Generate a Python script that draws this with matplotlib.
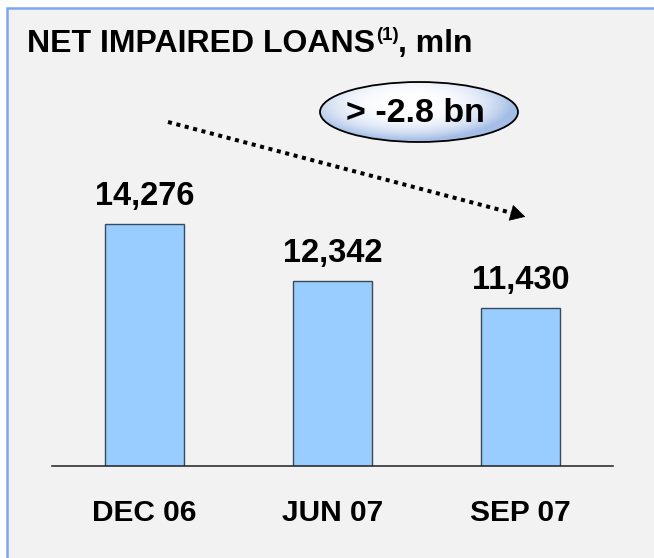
import numpy as np
import matplotlib
matplotlib.use("Agg")
import matplotlib.pyplot as plt
from matplotlib.patches import Rectangle, Ellipse

categories = ["DEC 06", "JUN 07", "SEP 07"]
values = [14276, 12342, 11430]
value_labels = ["14,276", "12,342", "11,430"]
title_main = "NET IMPAIRED LOANS"
title_sup = "(1)"
title_tail = ", mln"
bubble_text = "> -2.8 bn"

W, H = 654, 558
DPI = 100
fig = plt.figure(figsize=(W / DPI, H / DPI), dpi=DPI, facecolor="white")
FONT = "Liberation Sans"

# background frame (pixel coords, y down)
bg = fig.add_axes([0, 0, 1, 1], zorder=0)
bg.set_xlim(0, W); bg.set_ylim(H, 0); bg.axis("off")
bg.add_patch(Rectangle((7, 8), W + 20, H + 20, facecolor="#F2F2F2",
                       edgecolor="#7FA6F5", lw=1.8))

# bar axes
ax = fig.add_axes([52 / W, (H - 466) / H, 561 / W, 366 / H], zorder=1)
ax.patch.set_alpha(0)
x = np.arange(len(categories))
ax.bar(x, values, width=0.42, color="#99CCFF", edgecolor="#3A4A5A", lw=1.0, zorder=2)
ax.set_xlim(-0.49, 2.49)
ax.set_ylim(6067, 6067 + 366 / 0.02947)
for s in ["top", "right", "left"]:
    ax.spines[s].set_visible(False)
ax.spines["bottom"].set_color("#202020")
ax.spines["bottom"].set_linewidth(1.1)
ax.set_yticks([])
ax.set_xticks(x)
ax.set_xticklabels(categories, fontfamily=FONT, fontweight="bold", fontsize=21.5)
ax.tick_params(axis="x", length=0, pad=24)
for xi, v, lab in zip(x, values, value_labels):
    ax.annotate(lab, (xi, v), xytext=(0, 13.5), textcoords="offset points",
                ha="center", va="baseline", fontfamily=FONT, fontweight="bold",
                fontsize=23.5, color="black")

# overlay
ov = fig.add_axes([0, 0, 1, 1], zorder=3)
ov.set_xlim(0, W); ov.set_ylim(H, 0); ov.axis("off")
ov.patch.set_alpha(0)

t1 = ov.text(27, 52, title_main, fontfamily=FONT, fontweight="bold",
             fontsize=23, va="baseline", ha="left")
t2 = ov.annotate(title_sup, xy=(1, 0.5), xycoords=t1, xytext=(0.5, 0),
                 textcoords="offset points", fontfamily=FONT, fontweight="bold",
                 fontsize=13.5, va="bottom", ha="left")
t3 = ov.annotate(title_tail, xy=(1, 0), xycoords=(t2, t1), xytext=(0, 0),
                 textcoords="offset points", fontfamily=FONT, fontweight="bold",
                 fontsize=23, va="bottom", ha="left")

# dotted arrow
x0, y0, x1, y1 = 168, 122, 510, 212.5
ov.plot([x0, x1], [y0, y1], color="black", lw=2.9, ls=(0, (1, 1.15)),
        solid_capstyle="butt", dash_capstyle="butt")
ov.annotate("", xy=(528, 217.5), xytext=(508, 212),
            arrowprops=dict(arrowstyle="-|>,head_length=1.0,head_width=0.55",
                            color="black", lw=0.5))

# gradient ellipse
cx, cy, ew, eh = 419, 112, 198, 60
ell = Ellipse((cx, cy), ew, eh, facecolor="none", edgecolor="black", lw=1.3, zorder=5)
gx = np.linspace(-1, 1, 200)
gy = np.linspace(-1, 1, 60)
GX, GY = np.meshgrid(gx, gy)
r = np.sqrt(((GX + 0.1) / 1.05) ** 2 + ((GY + 0.3) / 1.25) ** 2)
t = np.clip(r, 0, 1) ** 3.0
c0 = np.array([1.0, 1.0, 1.0])
c1 = np.array([0xA4, 0xBE, 0xE6]) / 255
img = c0[None, None, :] * (1 - t[..., None]) + c1[None, None, :] * t[..., None]
im = ov.imshow(img, extent=(cx - ew / 2, cx + ew / 2, cy + eh / 2, cy - eh / 2),
               zorder=4, interpolation="bilinear")
ov.add_patch(ell)
clip = Ellipse((cx, cy), ew, eh, transform=ov.transData)
im.set_clip_path(clip)
ov.set_xlim(0, W); ov.set_ylim(H, 0)
ov.text(cx - 4, cy + 1, bubble_text, fontfamily=FONT, fontweight="bold",
        fontsize=24.5, ha="center", va="center", zorder=6)

fig.savefig("out.png", dpi=DPI, facecolor="white")
